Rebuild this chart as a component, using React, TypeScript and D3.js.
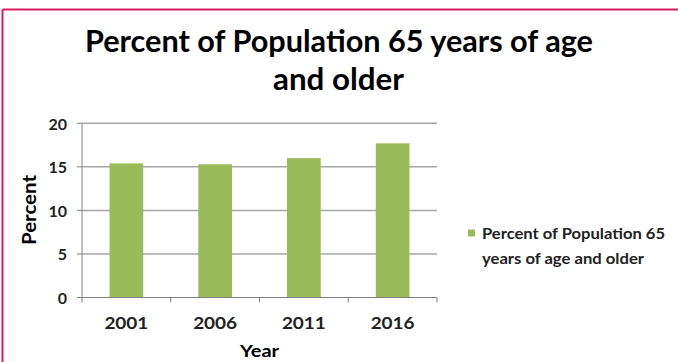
import React from "react";
import * as d3 from "d3";

const categories = ["2001", "2006", "2011", "2016"];
const values = [15.4, 15.3, 16.0, 17.7];
const yTicks = [0, 5, 10, 15, 20];
const seriesName = "Percent of Population 65 years of age and older";
const titleLines = ["Percent of Population 65 years of age", "and older"];
const legendLines = ["Percent of Population 65", "years of age and older"];

const W = 678, H = 362;
const FONT = "Lato, 'Open Sans', sans-serif";
const GREEN = "#9bbb59";
const PINK = "#d81b60";

export default function App() {
  const x = d3.scaleBand<string>().domain(categories).range([82, 437]).paddingInner(0.62).paddingOuter(0.31);
  const y = d3.scaleLinear().domain([0, 20]).range([297.5, 123.3]);
  const step = (437 - 82) / categories.length;
  const tickXs = d3.range(categories.length + 1).map((i) => 82 + i * step);
  const titleLen = [508, 131];
  const titleX = [339, 338.5];
  const titleY = [52, 90];
  const legendLen = [183, 162];

  return (
    <div style={{ position: "absolute", left: 0, top: 0 }}>
      <svg width={W} height={H} style={{ display: "block", background: "#fff" }} fontFamily={FONT}>
        <rect x={0} y={0} width={W} height={H} fill="#fff" />
        <line x1={2.5} y1={9.5} x2={W} y2={9.5} stroke={PINK} strokeWidth={2} />
        <line x1={2.5} y1={9.5} x2={2.5} y2={H} stroke={PINK} strokeWidth={2} />
        {titleLines.map((t, i) => (
          <text key={t} x={titleX[i]} y={titleY[i]} textAnchor="middle"
            fontSize={30} fontWeight={700} fill="#000" textLength={titleLen[i]} lengthAdjust="spacingAndGlyphs">{t}</text>
        ))}
        {yTicks.map((v) => (
          <g key={v}>
            {v > 0 && <line x1={82} x2={437} y1={y(v)} y2={y(v)} stroke="#a6a6a6" strokeWidth={1.5} />}
            <line x1={77} x2={82} y1={y(v)} y2={y(v)} stroke="#808080" strokeWidth={1} />
            <text x={67} y={y(v)} textAnchor="end" dominantBaseline="central" fontSize={16} fontWeight={700} fill="#222">{v}</text>
          </g>
        ))}
        {categories.map((c, i) => (
          <rect key={c} x={x(c)} y={y(values[i])} width={x.bandwidth()} height={y(0) - y(values[i])} fill={GREEN} />
        ))}
        <line x1={82} x2={82} y1={y(20)} y2={y(0)} stroke="#808080" strokeWidth={1} />
        <line x1={82} x2={437} y1={y(0)} y2={y(0)} stroke="#808080" strokeWidth={1} />
        {tickXs.map((tx, i) => (
          <line key={i} x1={tx} x2={tx} y1={y(0)} y2={y(0) + 5} stroke="#808080" strokeWidth={1} />
        ))}
        {categories.map((c) => (
          <text key={c} x={(x(c) as number) + x.bandwidth() / 2} y={322.5} textAnchor="middle" dominantBaseline="central"
            fontSize={17} fontWeight={700} fill="#222" textLength={44} lengthAdjust="spacingAndGlyphs">{c}</text>
        ))}
        <text x={259.5} y={357} textAnchor="middle" fontSize={17} fontWeight={700} fill="#000"
          textLength={39} lengthAdjust="spacingAndGlyphs">Year</text>
        <text transform={`translate(29,210) rotate(-90)`} textAnchor="middle" dominantBaseline="central" fontSize={18} fontWeight={700} fill="#000"
          textLength={70} lengthAdjust="spacingAndGlyphs">Percent</text>
        <rect x={468} y={229.5} width={7} height={7} fill={GREEN}>
          <title>{seriesName}</title>
        </rect>
        {legendLines.map((t, i) => (
          <text key={t} x={482} y={233 + i * 25} dominantBaseline="central" fontSize={15} fontWeight={700} fill="#222"
            textLength={legendLen[i]} lengthAdjust="spacingAndGlyphs">{t}</text>
        ))}
      </svg>
    </div>
  );
}
